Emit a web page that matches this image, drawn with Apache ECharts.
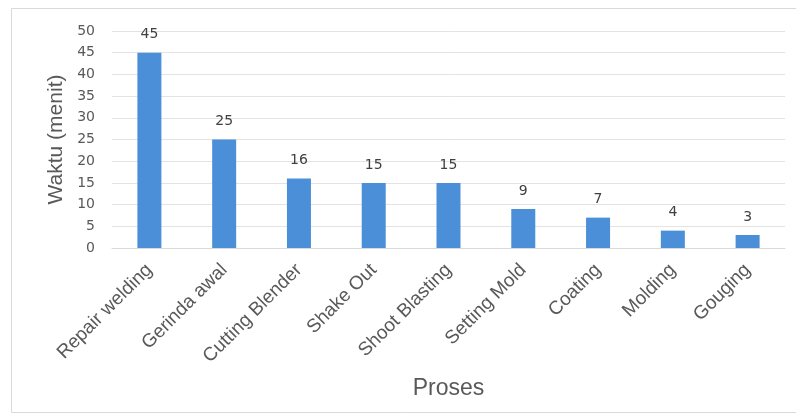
<!DOCTYPE html>
<html>
<head>
<meta charset="utf-8">
<script src="https://cdn.jsdelivr.net/npm/echarts@6/dist/echarts.min.js"></script>
<style>html,body{margin:0;padding:0;background:#fff;}#c{width:796px;height:419px;}</style>
</head>
<body>
<div id="c"></div>
<script>
const categories = ["Repair welding", "Gerinda awal", "Cutting Blender", "Shake Out", "Shoot Blasting", "Setting Mold", "Coating", "Molding", "Gouging"];
const values = [45, 25, 16, 15, 15, 9, 7, 4, 3];
const yTicks = {min: 0, max: 50, interval: 5};

const chart = echarts.init(document.getElementById('c'));
chart.setOption({
  backgroundColor: '#fff',
  animation: false,
  textStyle: {fontFamily: 'DejaVu Sans, sans-serif'},
  graphic: [{
    type: 'rect', left: 11, top: 8, z: -1,
    shape: {width: 800, height: 404},
    style: {fill: '#fff', stroke: '#d9d9d9', lineWidth: 1}
  }],
  grid: {left: 112, right: 11, top: 31, bottom: 171, containLabel: false},
  xAxis: {
    type: 'category',
    data: categories,
    name: 'Proses',
    nameLocation: 'middle',
    nameGap: 129,
    nameTextStyle: {fontSize: 23, color: '#595959', fontFamily: 'Liberation Sans, Arial, sans-serif'},
    axisLine: {lineStyle: {color: '#d9d9d9'}},
    axisTick: {show: false},
    axisLabel: {rotate: 45, fontSize: 19, color: '#595959', margin: 19, interval: 0, fontFamily: 'Liberation Sans, Arial, sans-serif'}
  },
  yAxis: {
    type: 'value',
    min: yTicks.min, max: yTicks.max, interval: yTicks.interval,
    name: 'Waktu (menit)',
    nameLocation: 'middle',
    nameGap: 44,
    nameTextStyle: {fontSize: 21, color: '#595959', fontFamily: 'Liberation Sans, Arial, sans-serif'},
    axisLine: {show: false},
    axisTick: {show: false},
    axisLabel: {fontSize: 14, color: '#595959', margin: 17},
    splitLine: {lineStyle: {color: '#e3e3e3'}}
  },
  series: [{
    type: 'bar',
    data: values,
    barWidth: 24,
    itemStyle: {color: '#4A8FD8'},
    label: {show: true, position: 'top', fontSize: 14, color: '#404040', distance: 11}
  }]
});
</script>
</body>
</html>
